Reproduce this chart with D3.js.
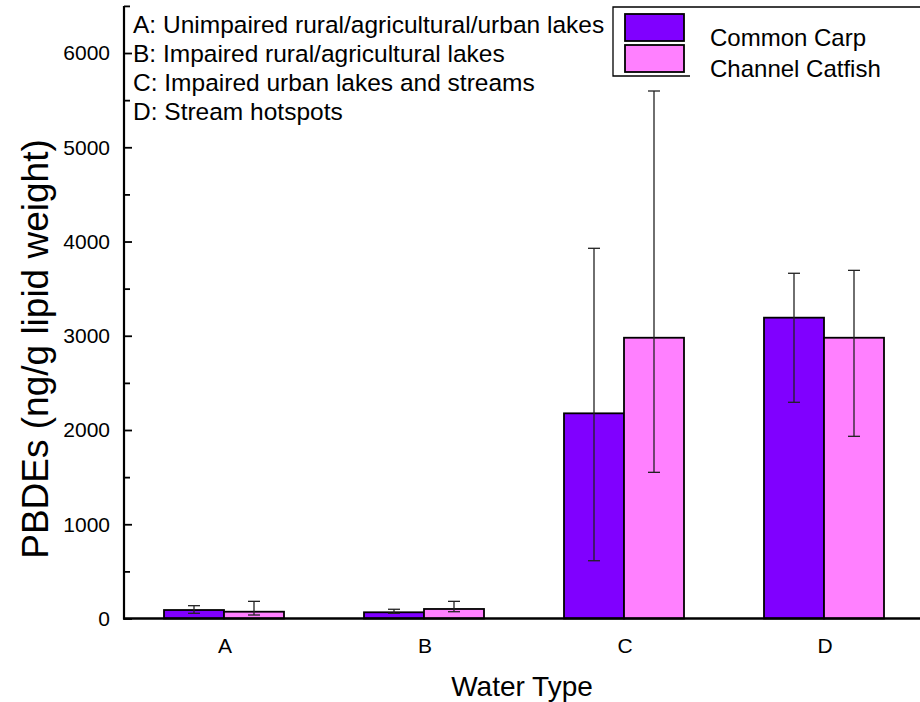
<!DOCTYPE html>
<html>
<head>
<meta charset="utf-8">
<script src="https://cdn.jsdelivr.net/npm/d3@7"></script>
<style>
  body { margin: 0; background: #fff; }
  svg { display: block; font-family: "Liberation Sans", Arial, sans-serif; }
</style>
</head>
<body>
<div id="chart"></div>
<script>
// water types on the x axis
var categories = ['A', 'B', 'C', 'D'];
var typeNotes = [
  'A: Unimpaired rural/agricultural/urban lakes',
  'B: Impaired rural/agricultural lakes',
  'C: Impaired urban lakes and streams',
  'D: Stream hotspots'
];
var seriesNames = ['Common Carp', 'Channel Catfish'];

// PBDEs, ng/g lipid weight
var carpMean = [90, 66, 2177, 3192];
var carpLow = [55, 55, 613, 2294];
var carpHigh = [136, 98, 3928, 3663];
var catfishMean = [72, 101, 2979, 2979];
var catfishLow = [37, 72, 1551, 1933];
var catfishHigh = [182, 182, 5597, 3694];

var yTicks = [0, 1000, 2000, 3000, 4000, 5000, 6000];
var yMinorTicks = [500, 1500, 2500, 3500, 4500, 5500, 6500];

var W = 920, H = 702;
var colors = ['#8000ff', '#ff80ff'];

var svg = d3.select('#chart').append('svg')
  .attr('width', W)
  .attr('height', H);

var x = d3.scaleBand()
  .domain(categories)
  .range([124, 924])
  .paddingInner(0.4)
  .paddingOuter(0.2);

var xSub = d3.scaleBand()
  .domain(seriesNames)
  .range([0, x.bandwidth()]);

var y = d3.scaleLinear()
  .domain([0, 6500])
  .range([618.5, 5.9]);

// build rows for bars
var rows = [];
categories.forEach(function (c, i) {
  rows.push({cat: c, s: seriesNames[0], v: carpMean[i], lo: carpLow[i], hi: carpHigh[i], col: colors[0]});
  rows.push({cat: c, s: seriesNames[1], v: catfishMean[i], lo: catfishLow[i], hi: catfishHigh[i], col: colors[1]});
});

// bars
svg.append('g').selectAll('rect')
  .data(rows).enter()
  .append('rect')
  .attr('x', function (d) { return x(d.cat) + xSub(d.s); })
  .attr('y', function (d) { return y(d.v); })
  .attr('width', xSub.bandwidth())
  .attr('height', function (d) { return y(0) - y(d.v); })
  .attr('fill', function (d) { return d.col; })
  .attr('stroke', '#000')
  .attr('stroke-width', 1.8);

// error bars
var eb = svg.append('g').selectAll('g')
  .data(rows).enter()
  .append('g')
  .attr('stroke', '#222')
  .attr('stroke-width', 1.3);
eb.append('line')
  .attr('x1', function (d) { return x(d.cat) + xSub(d.s) + xSub.bandwidth() / 2; })
  .attr('x2', function (d) { return x(d.cat) + xSub(d.s) + xSub.bandwidth() / 2; })
  .attr('y1', function (d) { return y(d.lo); })
  .attr('y2', function (d) { return y(d.hi); });
['lo', 'hi'].forEach(function (k) {
  eb.append('line')
    .attr('x1', function (d) { return x(d.cat) + xSub(d.s) + xSub.bandwidth() / 2 - 6; })
    .attr('x2', function (d) { return x(d.cat) + xSub(d.s) + xSub.bandwidth() / 2 + 6; })
    .attr('y1', function (d) { return y(d[k]); })
    .attr('y2', function (d) { return y(d[k]); });
});

// y axis, ticks point inward
var yAxis = svg.append('g')
  .attr('transform', 'translate(124,0)')
  .call(d3.axisRight(y).tickValues(yTicks).tickSize(8).tickFormat(''));
yAxis.select('.domain').remove();
yAxis.selectAll('line').attr('stroke', '#000').attr('stroke-width', 1.8);

var yMinor = svg.append('g')
  .attr('transform', 'translate(124,0)')
  .call(d3.axisRight(y).tickValues(yMinorTicks).tickSize(6).tickFormat(''));
yMinor.select('.domain').remove();
yMinor.selectAll('line').attr('stroke', '#000').attr('stroke-width', 1.8);

svg.append('line')
  .attr('x1', 124).attr('x2', 124)
  .attr('y1', y(6500)).attr('y2', y(0) + 1)
  .attr('stroke', '#000').attr('stroke-width', 2.2);

svg.append('g').selectAll('text')
  .data(yTicks).enter()
  .append('text')
  .attr('x', 110)
  .attr('y', function (d) { return y(d); })
  .attr('dy', '0.35em')
  .attr('text-anchor', 'end')
  .attr('font-size', 21)
  .text(function (d) { return d; });

// x axis
svg.append('line')
  .attr('x1', 123).attr('x2', 920)
  .attr('y1', y(0)).attr('y2', y(0))
  .attr('stroke', '#000').attr('stroke-width', 2.6);

svg.append('g').selectAll('text')
  .data(categories).enter()
  .append('text')
  .attr('x', function (d) { return x(d) + x.bandwidth() / 2 + 1; })
  .attr('y', 653)
  .attr('text-anchor', 'middle')
  .attr('font-size', 21)
  .text(function (d) { return d; });

// axis titles
svg.append('text')
  .attr('x', 522)
  .attr('y', 696)
  .attr('text-anchor', 'middle')
  .attr('font-size', 28)
  .text('Water Type');

svg.append('text')
  .attr('transform', 'translate(48,349) rotate(-90)')
  .attr('text-anchor', 'middle')
  .attr('font-size', 37)
  .text('PBDEs (ng/g lipid weight)');

// notes for the water types
svg.append('g').selectAll('text')
  .data(typeNotes).enter()
  .append('text')
  .attr('x', 133)
  .attr('y', function (d, i) { return 33 + i * 29; })
  .attr('font-size', 24.5)
  .text(function (d) { return d; });

// legend
var lg = svg.append('g');
lg.append('path')
  .attr('d', 'M690,76 H613 V7 H920')
  .attr('fill', 'none')
  .attr('stroke', '#000')
  .attr('stroke-width', 1.3);
lg.selectAll('rect')
  .data(seriesNames).enter()
  .append('rect')
  .attr('x', 625)
  .attr('y', function (d, i) { return 14 + i * 31; })
  .attr('width', 59)
  .attr('height', 27)
  .attr('fill', function (d, i) { return colors[i]; })
  .attr('stroke', '#000')
  .attr('stroke-width', 1.8);
lg.selectAll('text')
  .data(seriesNames).enter()
  .append('text')
  .attr('x', 710)
  .attr('y', function (d, i) { return 46 + i * 31; })
  .attr('font-size', 24)
  .text(function (d) { return d; });
</script>
</body>
</html>
